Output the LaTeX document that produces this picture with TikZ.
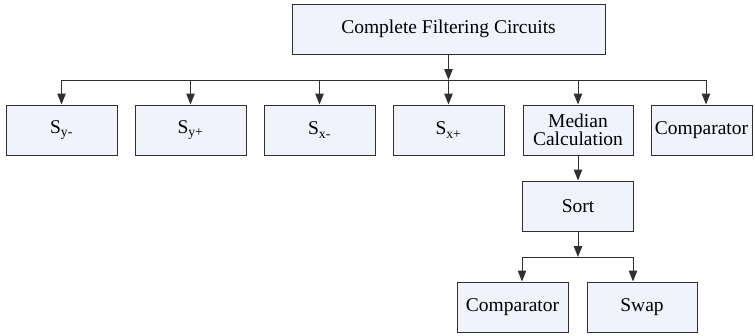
\documentclass[tikz,border=0pt]{standalone}
\usepackage{fontspec}
\setmainfont{Liberation Serif}
\usetikzlibrary{arrows.meta}
\definecolor{boxfill}{HTML}{F0F3FB}
\definecolor{edge}{HTML}{303030}
\begin{document}
\begin{tikzpicture}[x=1pt,y=-1pt,
  blk/.style={draw=edge,line width=1pt,fill=boxfill,inner sep=0pt,align=center,font=\fontsize{19.5}{21}\selectfont},
  arr/.style={draw=edge,line width=1pt,-{Triangle[length=11pt,width=8.5pt]}},
  ln/.style={draw=edge,line width=1pt}]
\useasboundingbox (0,0) rectangle (755,335);
\node[blk,minimum width=313pt,minimum height=50pt] (top) at (448.5,29) {Complete Filtering Circuits};
\node[blk,minimum width=111pt,minimum height=50pt] (sym) at (61.5,130) {S\textsubscript{y-}};
\node[blk,minimum width=111pt,minimum height=50pt] (syp) at (190.5,130) {S\textsubscript{y+}};
\node[blk,minimum width=111pt,minimum height=50pt] (sxm) at (319.5,130) {S\textsubscript{x-}};
\node[blk,minimum width=111pt,minimum height=50pt] (sxp) at (448.5,130) {S\textsubscript{x+}};
\node[blk,minimum width=110pt,minimum height=50pt] (med) at (578,130) {Median\\[-3pt]Calculation};
\node[blk,minimum width=101pt,minimum height=50pt] (cmp) at (701.5,130) {Comparator};
\node[blk,minimum width=111pt,minimum height=50pt] (sort) at (578,206) {Sort};
\node[blk,minimum width=111pt,minimum height=50pt] (cmp2) at (512.5,307) {Comparator};
\node[blk,minimum width=110pt,minimum height=50pt] (swap) at (642,307) {Swap};
\coordinate (bus) at (448.5,80);
\coordinate (busL) at (61.5,80);
\coordinate (busR) at (706,80);
\draw[arr] (top.south) -- (bus);
\draw[ln] (busL) -- (busR);
\draw[arr] (busL) -- (sym.north);
\draw[arr] (syp.north |- bus) -- (syp.north);
\draw[arr] (sxm.north |- bus) -- (sxm.north);
\draw[arr] (bus) -- (sxp.north);
\draw[arr] (med.north |- bus) -- (med.north);
\draw[arr] (busR) -- (busR |- cmp.north);
\draw[arr] (med.south) -- (sort.north);
\coordinate (bus2) at (578,257);
\draw[arr] (sort.south) -- (bus2);
\coordinate (b2L) at (522,257);
\coordinate (b2R) at (633,257);
\draw[ln] (b2L) -- (b2R);
\draw[arr] (b2L) -- (b2L |- cmp2.north);
\draw[arr] (b2R) -- (b2R |- swap.north);
\end{tikzpicture}
\end{document}
